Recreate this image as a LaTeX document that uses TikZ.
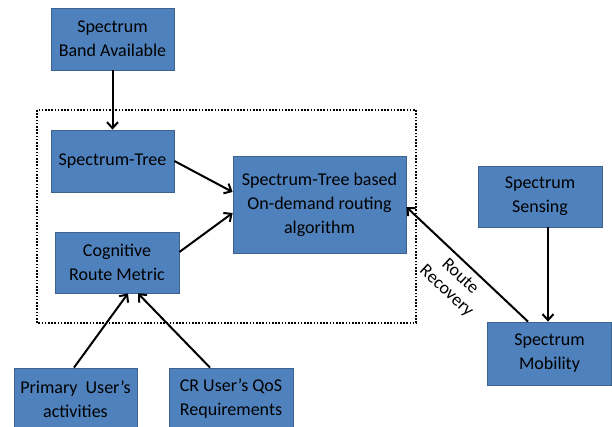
\documentclass[tikz,border=0pt]{standalone}
\usepackage{fontspec}
\setmainfont{Carlito}
\usetikzlibrary{arrows.meta}
\definecolor{boxfill}{RGB}{79,129,189}
\definecolor{boxline}{RGB}{60,98,145}
\tikzset{
  box/.style={draw=boxline, line width=0.8pt, fill=boxfill, align=center,
    inner sep=2pt, font=\fontsize{18}{24}\selectfont},
  link/.style={line width=2pt, -{Straight Barb[length=6pt,width=11pt,line width=2pt]}},
  frame/.style={line width=1.6pt, dash pattern=on 1.6pt off 1.6pt}
}
\begin{document}
\begin{tikzpicture}[x=1pt, y=-1pt]
\useasboundingbox (0,0) rectangle (612,427);
\clip (0,0) rectangle (612,427);
\fill[white] (0,0) rectangle (612,427);

% dotted frame around the routing core
\draw[frame] (37,110) rectangle (416,323);

% boxes
\node[box, minimum width=123pt, minimum height=62pt] (band) at (112.5,39) {Spectrum\\Band Available};
\node[box, minimum width=123pt, minimum height=62pt] (stree) at (112.5,161) {Spectrum-Tree};
\node[box, minimum width=124pt, minimum height=61pt] (crm) at (117,262.5) {Cognitive\\Route Metric};
\node[box, minimum width=173pt, minimum height=97pt] (algo) at (319.5,204.5) {Spectrum-Tree based\\On-demand routing\\algorithm};
\node[box, minimum width=124pt, minimum height=61pt] (sens) at (540,196.5) {Spectrum\\Sensing};
\node[box, minimum width=124pt, minimum height=63pt] (mob) at (549.5,353.5) {Spectrum\\Mobility};
\node[box, minimum width=123pt, minimum height=62pt] (pua) at (75.5,399) {Primary~ User’s\\activities};
\node[box, minimum width=124pt, minimum height=62pt] (cr) at (231,399) {CR User’s QoS\\Requirements};

% connectors
\draw[link] (band.south) -- (stree.north);
\draw[link] (stree.east) -- ([yshift=12.5pt]algo.west);
\draw[link] ([yshift=10.5pt]crm.east) -- ([yshift=-8.5pt]algo.west);
\draw[link] ([xshift=-1.5pt]pua.north) -- ([xshift=11pt]crm.south);
\draw[link] ([xshift=-21pt]cr.north) -- ([xshift=21pt]crm.south);
\draw[link] ([xshift=8pt]sens.south) -- ([xshift=-1.5pt]mob.north);
\draw[link] ([xshift=-21.5pt]mob.north) -- ([yshift=-2.5pt]algo.east);

\node[rotate=-43, align=center, font=\fontsize{18}{20}\selectfont] (rr) at (453,284) {Route\\Recovery};
\end{tikzpicture}
\end{document}
